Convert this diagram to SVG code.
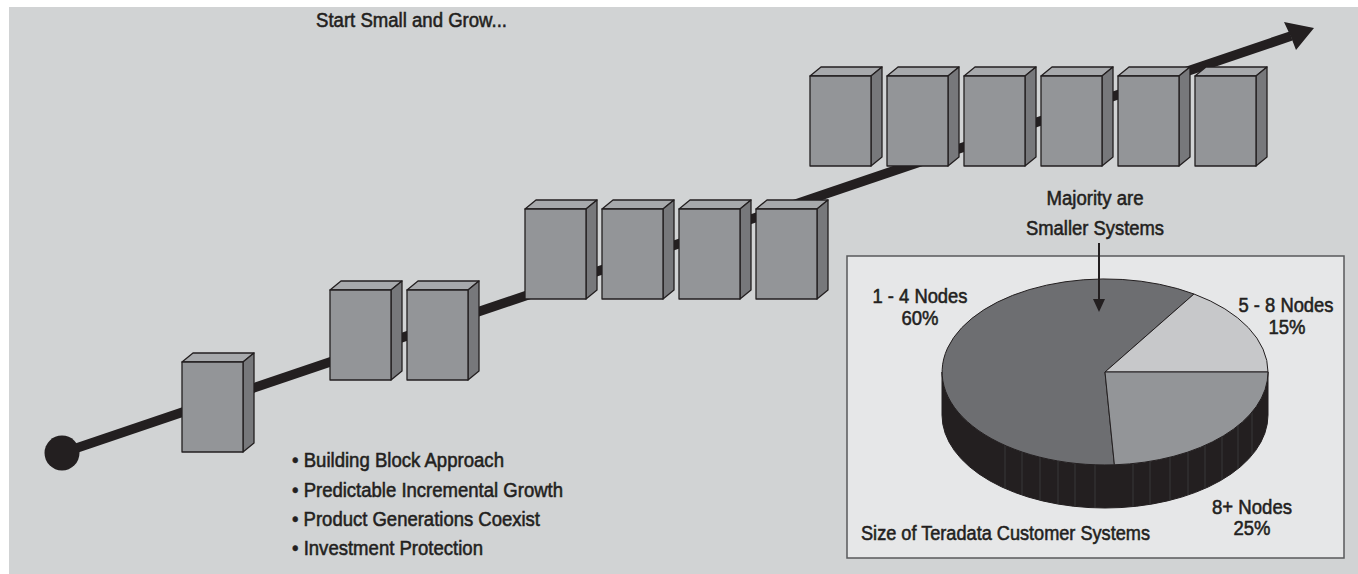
<svg xmlns="http://www.w3.org/2000/svg" xmlns:xlink="http://www.w3.org/1999/xlink" width="1358" height="574" viewBox="0 0 1358 574">
<style>
  .t { font-family: "Liberation Sans", Arial, sans-serif; font-size: 20px; fill: #231f20; stroke: #231f20; stroke-width: 0.55; }
  .m { text-anchor: middle; }
  .front { fill: #939598; stroke: #231f20; stroke-width: 1.3; stroke-linejoin: round; }
  .top { fill: #a7a9ac; stroke: #231f20; stroke-width: 1.3; stroke-linejoin: round; }
  .side { fill: #77787b; stroke: #231f20; stroke-width: 1.3; stroke-linejoin: round; }
  .slice { stroke: #231f20; stroke-width: 1; stroke-linejoin: round; }
  .rib { stroke: #48494c; stroke-width: 0.6; }
</style>
<defs>
  <g id="box">
    <polygon class="top" points="0,0 11,-9 72,-9 61,0"/>
    <polygon class="side" points="61,0 72,-9 72,81 61,90"/>
    <rect class="front" x="0" y="0" width="61" height="90"/>
  </g>
</defs>
<rect x="0" y="0" width="1358" height="574" fill="#ffffff"/>
<rect x="9" y="7" width="1349" height="567" fill="#d1d3d4"/>

<g id="connectors">
  <line x1="62" y1="453" x2="1291" y2="36" stroke="#231f20" stroke-width="9.5"/>
  <polygon points="1314,28 1284,22 1291,37 1296,50" fill="#231f20"/>
  <circle cx="62" cy="453" r="17.5" fill="#231f20"/>
</g>

<g id="box-1"><use xlink:href="#box" x="182" y="362"/></g>
<g id="box-2"><use xlink:href="#box" x="330" y="290"/></g>
<g id="box-3"><use xlink:href="#box" x="407" y="290"/></g>
<g id="box-4"><use xlink:href="#box" x="525" y="209"/></g>
<g id="box-5"><use xlink:href="#box" x="602" y="209"/></g>
<g id="box-6"><use xlink:href="#box" x="679" y="209"/></g>
<g id="box-7"><use xlink:href="#box" x="756" y="209"/></g>
<g id="box-8"><use xlink:href="#box" x="810" y="76"/></g>
<g id="box-9"><use xlink:href="#box" x="887" y="76"/></g>
<g id="box-10"><use xlink:href="#box" x="964" y="76"/></g>
<g id="box-11"><use xlink:href="#box" x="1041" y="76"/></g>
<g id="box-12"><use xlink:href="#box" x="1118" y="76"/></g>
<g id="box-13"><use xlink:href="#box" x="1195" y="76"/></g>

<g id="title">
  <text class="t" x="316" y="27" textLength="191" lengthAdjust="spacingAndGlyphs">Start Small and Grow...</text>
</g>

<g id="bullets">
  <text class="t" x="292" y="467" textLength="212" lengthAdjust="spacingAndGlyphs">• Building Block Approach</text>
  <text class="t" x="292" y="497" textLength="271" lengthAdjust="spacingAndGlyphs">• Predictable Incremental Growth</text>
  <text class="t" x="292" y="526" textLength="248" lengthAdjust="spacingAndGlyphs">• Product Generations Coexist</text>
  <text class="t" x="292" y="555" textLength="191" lengthAdjust="spacingAndGlyphs">• Investment Protection</text>
</g>

<g id="pie-panel">
  <rect x="847" y="256" width="497" height="302" fill="#e6e7e8" stroke="#58595b" stroke-width="1.5"/>
  <path class="slice" d="M942,372 A163,93 0 0,0 1268,372 L1268,415 A163,93 0 0,1 942,415 Z" fill="#231f20"/>
  <g class="rib">
    <line x1="1005" y1="445.4" x2="1005" y2="488.4"/>
    <line x1="1022" y1="452" x2="1022" y2="495"/>
    <line x1="1040" y1="457.3" x2="1040" y2="500.3"/>
    <line x1="1058" y1="461" x2="1058" y2="504"/>
    <line x1="1075" y1="463.4" x2="1075" y2="506.4"/>
    <line x1="1095" y1="464.8" x2="1095" y2="507.8"/>
    <line x1="1133" y1="463.6" x2="1133" y2="506.6"/>
    <line x1="1150" y1="461.4" x2="1150" y2="504.4"/>
    <line x1="1170" y1="457.3" x2="1170" y2="500.3"/>
    <line x1="1188" y1="452" x2="1188" y2="495"/>
    <line x1="1205" y1="445.4" x2="1205" y2="488.4"/>
    <line x1="1222" y1="436.8" x2="1222" y2="479.8"/>
    <line x1="1238" y1="425.8" x2="1238" y2="468.8"/>
    <line x1="1252" y1="412.2" x2="1252" y2="455.2"/>
  </g>
  <path class="slice" d="M1105,372 L1194,294 A163,93 0 1,0 1114.4,464.8 Z" fill="#6d6e71"/>
  <path class="slice" d="M1105,372 L1194,294 A163,93 0 0,1 1268,372 Z" fill="#c7c8ca"/>
  <path class="slice" d="M1105,372 L1268,372 A163,93 0 0,1 1114.4,464.8 Z" fill="#939598"/>
  <text class="t m" x="920" y="303" textLength="95" lengthAdjust="spacingAndGlyphs">1 - 4 Nodes</text>
  <text class="t m" x="920" y="325" textLength="37" lengthAdjust="spacingAndGlyphs">60%</text>
  <text class="t m" x="1286" y="312" textLength="95" lengthAdjust="spacingAndGlyphs">5 - 8 Nodes</text>
  <text class="t m" x="1287" y="334" textLength="37" lengthAdjust="spacingAndGlyphs">15%</text>
  <text class="t m" x="1252" y="514" textLength="80" lengthAdjust="spacingAndGlyphs">8+ Nodes</text>
  <text class="t m" x="1252" y="535" textLength="37" lengthAdjust="spacingAndGlyphs">25%</text>
  <text class="t" x="861" y="540" textLength="289" lengthAdjust="spacingAndGlyphs">Size of Teradata Customer Systems</text>
</g>

<g id="callout">
  <text class="t m" x="1095" y="205" textLength="97" lengthAdjust="spacingAndGlyphs">Majority are</text>
  <text class="t m" x="1095" y="235" textLength="138" lengthAdjust="spacingAndGlyphs">Smaller Systems</text>
  <line x1="1099" y1="243" x2="1099" y2="300" stroke="#231f20" stroke-width="2"/>
  <polygon points="1093,299 1105,299 1099,312" fill="#231f20"/>
</g>
</svg>
